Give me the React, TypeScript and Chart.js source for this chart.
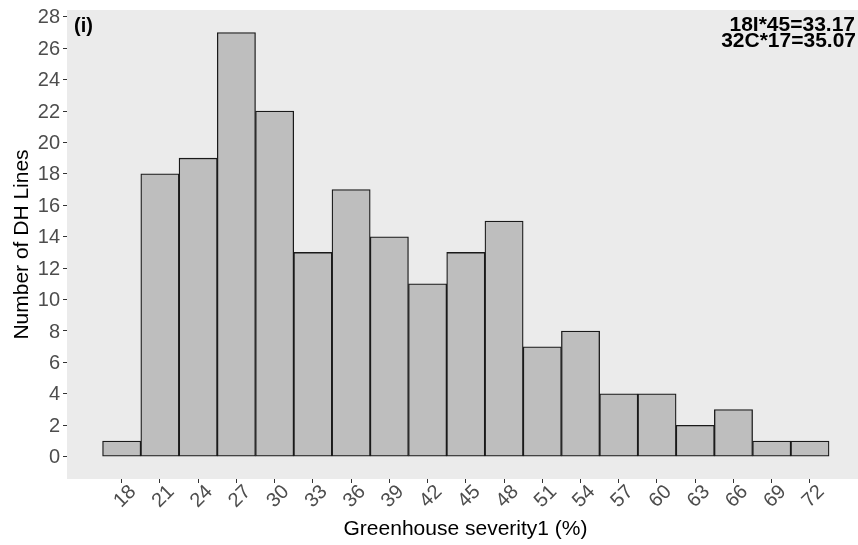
import React, { useEffect, useRef } from "react";
import { Chart, registerables } from "chart.js";

Chart.register(...registerables);

// Histogram bins (bin centres, % severity) and number of DH lines per bin
const severityBins = [18, 21, 24, 27, 30, 33, 36, 39, 42, 45, 48, 51, 54, 57, 60, 63, 66, 69, 72];
const lineCounts = [1, 18, 19, 27, 22, 13, 17, 14, 11, 13, 15, 7, 8, 4, 4, 2, 3, 1, 1];

const xTickValues = [18, 21, 24, 27, 30, 33, 36, 39, 42, 45, 48, 51, 54, 57, 60, 63, 66, 69, 72];
const yTickValues = [0, 2, 4, 6, 8, 10, 12, 14, 16, 18, 20, 22, 24, 26, 28];

const panelLabel = "(i)";
const cornerNotes = ["18I*45=33.17", "32C*17=35.07"];
const xTitle = "Greenhouse severity1 (%)";
const yTitle = "Number of DH Lines";

const FONT = "'Liberation Sans', Arial, Helvetica, sans-serif";
const TICK_GREY = "#4D4D4D";

const panelPlugin = {
  id: "panelBackground",
  beforeDraw(chart: any) {
    const { ctx, chartArea } = chart;
    ctx.save();
    ctx.fillStyle = "#EBEBEB";
    ctx.fillRect(chartArea.left, chartArea.top, chartArea.right - chartArea.left, chartArea.bottom - chartArea.top);
    ctx.restore();
  },
  afterDraw(chart: any) {
    const { ctx, chartArea, scales } = chart;
    const xs = scales.x;
    const ys = scales.y;
    ctx.save();

    ctx.fillStyle = TICK_GREY;
    ctx.font = `20px ${FONT}`;

    // y tick labels
    ctx.textAlign = "right";
    ctx.textBaseline = "middle";
    yTickValues.forEach((v) => {
      ctx.fillText(String(v), chartArea.left - 7, ys.getPixelForValue(v) + 1);
    });

    // rotated x tick labels
    ctx.textAlign = "center";
    ctx.textBaseline = "middle";
    xTickValues.forEach((v) => {
      const px = xs.getPixelForValue(v) + 3.5;
      const py = chartArea.bottom + 17.5;
      ctx.save();
      ctx.translate(px, py);
      ctx.rotate(-Math.PI / 4);
      ctx.fillText(String(v), 0, 0);
      ctx.restore();
    });

    // axis titles
    ctx.fillStyle = "#000";
    ctx.font = `21px ${FONT}`;
    ctx.textAlign = "center";
    ctx.textBaseline = "alphabetic";
    ctx.fillText(xTitle, 465.5, 535);

    ctx.save();
    ctx.translate(28, (chartArea.top + chartArea.bottom) / 2);
    ctx.rotate(-Math.PI / 2);
    ctx.fillText(yTitle, 0, 0);
    ctx.restore();

    // panel tag and corner notes
    ctx.font = `bold 20px ${FONT}`;
    ctx.textAlign = "left";
    ctx.fillText(panelLabel, chartArea.left + 7, 32);
    ctx.font = `bold 21px ${FONT}`;
    ctx.textAlign = "right";
    ctx.fillText(cornerNotes[0], 855, 31);
    ctx.fillText(cornerNotes[1], 856, 47);

    ctx.restore();
  },
};

export default function App() {
  const canvasRef = useRef<HTMLCanvasElement | null>(null);

  useEffect(() => {
    if (!canvasRef.current) return;
    const chart = new Chart(canvasRef.current, {
      type: "bar",
      data: {
        datasets: [
          {
            data: severityBins.map((x, i) => ({ x, y: lineCounts[i] })),
            backgroundColor: "#BEBEBE",
            borderColor: "#1A1A1A",
            borderWidth: 1.3,
            borderSkipped: false,
            barPercentage: 1,
            categoryPercentage: 1,
          },
        ],
      },
      options: {
        animation: false,
        responsive: false,
        maintainAspectRatio: false,
        layout: { padding: { top: 10, right: 0, left: 0, bottom: 0 } },
        plugins: {
          legend: { display: false },
          tooltip: { enabled: false },
          title: { display: false },
        },
        scales: {
          x: {
            type: "linear",
            min: 13.71,
            max: 75.77,
            offset: false,
            afterBuildTicks: (scale: any) => {
              scale.ticks = xTickValues.map((value) => ({ value }));
            },
            afterFit: (scale: any) => {
              scale.height = 66;
            },
            ticks: { display: false },
            grid: {
              offset: false,
              drawOnChartArea: false,
              drawTicks: true,
              tickLength: 4,
              tickColor: "#333333",
              tickWidth: 1,
            },
            border: { display: false },
          },
          y: {
            type: "linear",
            min: -1.42,
            max: 28.43,
            afterBuildTicks: (scale: any) => {
              scale.ticks = yTickValues.map((value) => ({ value }));
            },
            afterFit: (scale: any) => {
              scale.width = 67;
            },
            ticks: { display: false },
            grid: {
              offset: false,
              drawOnChartArea: false,
              drawTicks: true,
              tickLength: 4,
              tickColor: "#333333",
              tickWidth: 1,
            },
            border: { display: false },
          },
        },
      },
      plugins: [panelPlugin],
    });
    return () => chart.destroy();
  }, []);

  return (
    <div style={{ position: "fixed", left: 0, top: 0, width: 858, height: 545, background: "#fff" }}>
      <canvas ref={canvasRef} width={858} height={545} style={{ width: 858, height: 545 }} />
    </div>
  );
}
